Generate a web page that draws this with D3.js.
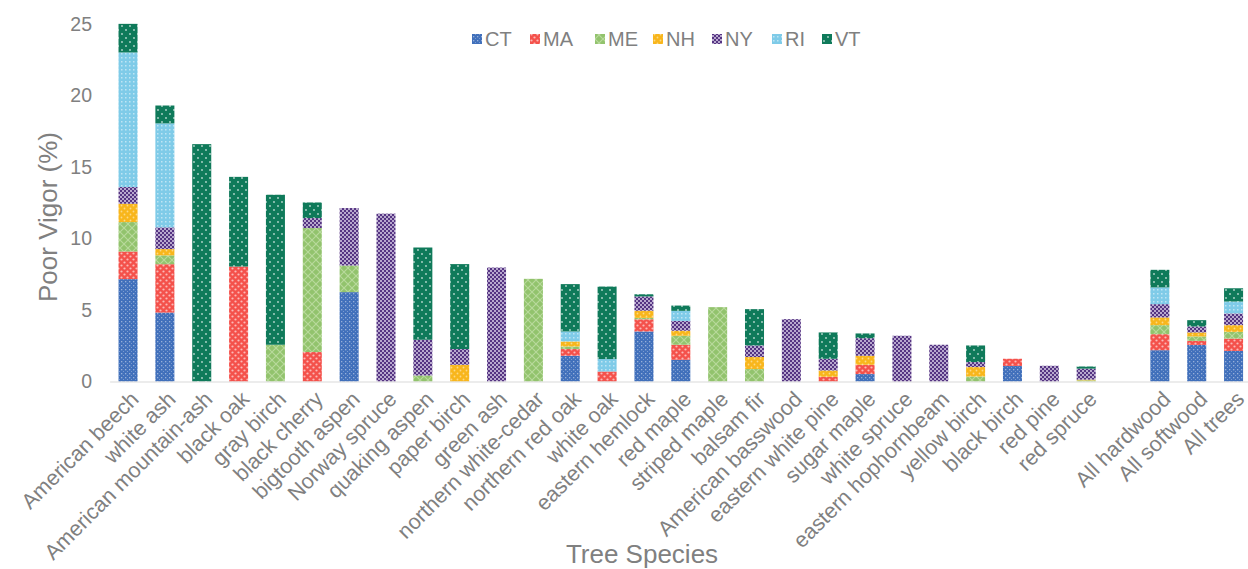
<!DOCTYPE html>
<html>
<head>
<meta charset="utf-8">
<script src="https://cdn.jsdelivr.net/npm/d3@7"></script>
<style>
  html, body { margin: 0; padding: 0; background: #fff; }
  svg { display: block; font-family: "Liberation Sans", Arial, sans-serif; }
</style>
</head>
<body>
<svg id="chart" width="1248" height="569"></svg>
<script>
// ---- data ----
const categories = ["American beech","white ash","American mountain-ash","black oak","gray birch","black cherry","bigtooth aspen","Norway spruce","quaking aspen","paper birch","green ash","northern white-cedar","northern red oak","white oak","eastern hemlock","red maple","striped maple","balsam fir","American basswood","eastern white pine","sugar maple","white spruce","eastern hophornbeam","yellow birch","black birch","red pine","red spruce","","All hardwood","All softwood","All trees"];
const seriesNames = ["CT","MA","ME","NH","NY","RI","VT"];
const CT = [7.16,4.82,0,0,0,0,6.25,0,0,0,0,0,1.8,0,3.5,1.52,0,0,0,0,0.52,0,0,0,1.09,0,0,0,2.19,2.56,2.14];
const MA = [1.93,3.38,0,8.04,0,2.06,0,0,0,0,0,0,0.47,0.7,0.85,1.05,0,0,0,0.33,0.65,0,0,0,0.5,0,0,0,1.12,0.28,0.86];
const ME = [2.06,0.62,0,0,2.57,8.67,1.86,0,0.42,0,0,7.18,0.18,0,0.1,0.63,5.2,0.87,0,0,0,0,0,0.35,0,0,0.08,0,0.63,0.31,0.47];
const NH = [1.28,0.44,0,0,0,0,0,0,0,1.17,0,0,0.35,0,0.5,0.35,0,0.84,0,0.44,0.63,0,0,0.66,0,0,0.05,0,0.54,0.28,0.47];
const NY = [1.17,1.52,0,0,0,0.7,4.02,11.74,2.5,1.1,7.97,0,0,0,1.0,0.69,0,0.81,4.36,0.82,1.23,3.2,2.57,0.35,0,1.1,0.77,0,0.93,0.42,0.82];
const RI = [9.41,7.27,0,0,0,0,0,0,0,0,0,0,0.7,0.87,0,0.7,0,0,0,0,0,0,0,0,0,0,0,0,1.17,0,0.83];
const VT = [2.0,1.25,16.6,6.27,10.49,1.09,0,0,6.45,5.94,0,0,3.31,5.07,0.15,0.37,0,2.54,0,1.84,0.33,0,0,1.16,0,0,0.15,0,1.23,0.44,0.93];
const yTicks = [0,5,10,15,20,25];
const yTitle = "Poor Vigor (%)";
const xTitle = "Tree Species";

const seriesValues = {CT, MA, ME, NH, NY, RI, VT};
const colors = {CT:"#4170bb", MA:"#f4514b", ME:"#92c36d", NH:"#f8b61c", NY:"#553482", RI:"#7fcbe8", VT:"#0f7a5a"};

// ---- build table ----
const keys = categories.map((c,i)=> c === "" ? "__gap" : c);
const rows = keys.map((k,i)=>{
  const r = {key:k};
  seriesNames.forEach(s => r[s] = seriesValues[s][i]);
  return r;
});
const stacked = d3.stack().keys(seriesNames)(rows);

const svg = d3.select("#chart");

// ---- patterns ----
const defs = svg.append("defs");
function pat(id, size, base, draw){
  const p = defs.append("pattern").attr("id", id).attr("patternUnits","userSpaceOnUse")
    .attr("width", size).attr("height", size);
  p.append("rect").attr("width", size).attr("height", size).attr("fill", base);
  draw(p);
}
pat("p-CT", 4, colors.CT, p=>{
  p.append("rect").attr("x",1).attr("y",1).attr("width",1.3).attr("height",1.3).attr("fill","#fff").attr("opacity",0.45);
  p.append("rect").attr("x",3).attr("y",3).attr("width",1).attr("height",1).attr("fill","#fff").attr("opacity",0.3);
});
pat("p-MA", 6, colors.MA, p=>{
  p.append("circle").attr("cx",1.5).attr("cy",1.5).attr("r",1.1).attr("fill","#fff").attr("opacity",0.6);
  p.append("circle").attr("cx",4.5).attr("cy",4.5).attr("r",1.1).attr("fill","#fff").attr("opacity",0.6);
});
pat("p-ME", 8, colors.ME, p=>{
  p.append("path").attr("d","M0,0L8,8M8,0L0,8").attr("stroke","#c2dfa8").attr("stroke-width",1.1).attr("fill","none").attr("opacity",0.8);
});
pat("p-NH", 6, colors.NH, p=>{
  p.append("circle").attr("cx",1.5).attr("cy",1.5).attr("r",0.9).attr("fill","#fde2a0").attr("opacity",0.8);
  p.append("circle").attr("cx",4.5).attr("cy",4.5).attr("r",0.9).attr("fill","#fde2a0").attr("opacity",0.8);
});
pat("p-NY", 4, colors.NY, p=>{
  p.append("rect").attr("x",0).attr("y",0).attr("width",2).attr("height",2).attr("fill","#d9cfe6").attr("opacity",0.75);
  p.append("rect").attr("x",2).attr("y",2).attr("width",2).attr("height",2).attr("fill","#d9cfe6").attr("opacity",0.75);
});
pat("p-RI", 4, colors.RI, p=>{
  p.append("rect").attr("x",1).attr("y",1).attr("width",1.5).attr("height",1.5).attr("fill","#fff").attr("opacity",0.5);
});
pat("p-VT", 8, colors.VT, p=>{
  p.append("circle").attr("cx",2).attr("cy",2).attr("r",0.9).attr("fill","#fff").attr("opacity",0.7);
  p.append("circle").attr("cx",6).attr("cy",6).attr("r",0.9).attr("fill","#fff").attr("opacity",0.7);
});

// ---- scales ----
const x = d3.scaleBand().domain(keys).range([109.6, 1252]).paddingInner(0.484).paddingOuter(0.242);
const y = d3.scaleLinear().domain([0,25]).range([381.5, 24]);

// ---- bars ----
svg.append("g").selectAll("g").data(stacked).join("g")
  .attr("fill", d => `url(#p-${d.key})`)
  .selectAll("rect").data(d => d).join("rect")
  .attr("x", d => x(d.data.key))
  .attr("width", x.bandwidth())
  .attr("y", d => y(d[1]))
  .attr("height", d => Math.max(0, y(d[0]) - y(d[1])));

// ---- x axis ----
const gx = svg.append("g").attr("transform", `translate(0,${y(0)})`)
  .call(d3.axisBottom(x).tickSize(0).tickFormat(k => k === "__gap" ? "" : k));
gx.select(".domain").attr("stroke", "#d9d9d9").attr("stroke-width", 1.2);
gx.selectAll(".tick text")
  .attr("fill", "#808080")
  .attr("font-size", 21.5)
  .attr("text-anchor", "end")
  .attr("dy", null).attr("y", 0)
  .attr("transform", "translate(12,19) rotate(-45)");

// ---- y axis ----
const gy = svg.append("g").attr("transform", `translate(110,0)`)
  .call(d3.axisLeft(y).tickValues(yTicks).tickSize(0).tickPadding(18));
gy.select(".domain").remove();
gy.selectAll(".tick text").attr("fill", "#808080").attr("font-size", 19.5);

// ---- titles ----
svg.append("text").attr("transform", "translate(57,217) rotate(-90)")
  .attr("text-anchor", "middle").attr("fill", "#808080").attr("font-size", 26).text(yTitle);
svg.append("text").attr("x", 642).attr("y", 563)
  .attr("text-anchor", "middle").attr("fill", "#808080").attr("font-size", 26).text(xTitle);

// ---- legend ----
const legendX = [472, 530, 595, 653, 712, 772, 822];
const lg = svg.append("g").selectAll("g").data(seriesNames).join("g")
  .attr("transform", (d,i) => `translate(${legendX[i]},39)`);
lg.append("rect").attr("x",0).attr("y",-5).attr("width",10).attr("height",10)
  .attr("fill", d => `url(#p-${d})`);
lg.append("text").attr("x", 13).attr("y", 0).attr("dy", "0.35em")
  .attr("fill", "#808080").attr("font-size", 20).text(d => d);
</script>
</body>
</html>
